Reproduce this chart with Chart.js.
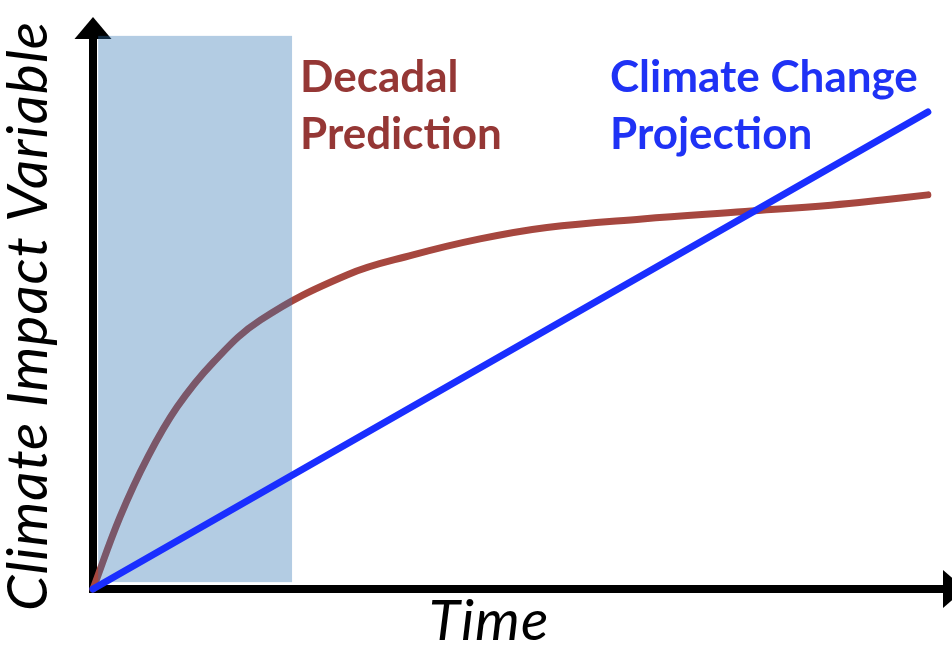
<!DOCTYPE html>
<html>
<head>
<meta charset="utf-8">
<script src="https://cdn.jsdelivr.net/npm/chart.js@4"></script>
<style>
  html, body { margin: 0; padding: 0; background: #fff; }
  #wrap { width: 952px; height: 647px; }
</style>
</head>
<body>
<div id="wrap"><canvas id="myChart"></canvas></div>
<script>
// values, both axes on a 0..100 scale
let decadalTime = [0, 3.15, 6.4, 9.8, 14.0, 19.5, 29.6, 37.3, 45.1, 52.9, 64.0, 76.0, 86.0, 92.0, 97.3];
let decadalValues = [0, 12.6, 23.1, 31.8, 39.6, 47.0, 54.9, 58.4, 61.2, 63.2, 64.7, 66.0, 67.1, 68.0, 68.9];
let projectionTime = [0, 97.3];
let projectionValues = [0, 83.4];
// shaded decadal window
let windowTime = [0.6, 23.2];
let windowValues = [1.2, 96.7];
let seriesLabels = [['Climate Change', 'Projection'], ['Decadal', 'Prediction']];
let axisTitles = ['Time', 'Climate Impact Variable'];

const toPoints = (xs, ys) => xs.map((x, i) => ({ x: x, y: ys[i] }));

const diagramPlugin = {
    id: 'diagram',
    beforeDatasetsDraw(chart) {
        const ctx = chart.ctx;
        const a = chart.chartArea;
        ctx.save();
        ctx.strokeStyle = '#000';
        ctx.fillStyle = '#000';
        ctx.lineWidth = 8;
        ctx.beginPath();
        ctx.moveTo(a.left, a.bottom + 4);
        ctx.lineTo(a.left, a.top + 20);
        ctx.moveTo(a.left - 4, a.bottom);
        ctx.lineTo(a.right - 6, a.bottom);
        ctx.stroke();
        // arrow heads
        ctx.beginPath();
        ctx.moveTo(a.left, a.top);
        ctx.lineTo(a.left - 18.5, a.top + 22);
        ctx.lineTo(a.left + 18.5, a.top + 22);
        ctx.closePath();
        ctx.fill();
        ctx.beginPath();
        ctx.moveTo(a.right + 14, a.bottom);
        ctx.lineTo(a.right - 8, a.bottom - 19);
        ctx.lineTo(a.right - 8, a.bottom + 19);
        ctx.closePath();
        ctx.fill();
        // axis titles
        ctx.font = 'italic 57px Lato';
        ctx.letterSpacing = '1px';
        ctx.textAlign = 'center';
        ctx.textBaseline = 'alphabetic';
        ctx.fillText(axisTitles[0], 489, 640);
        ctx.translate(47, 316);
        ctx.rotate(-Math.PI / 2);
        ctx.fillText(axisTitles[1], 0, 0);
        ctx.restore();
    },
    afterDatasetDraw(chart, args) {
        if (args.index !== 1) return;
        const ctx = chart.ctx;
        const xs = chart.scales.x, ys = chart.scales.y;
        const x0 = xs.getPixelForValue(windowTime[0]);
        const x1 = xs.getPixelForValue(windowTime[1]);
        const y0 = ys.getPixelForValue(windowValues[1]);
        const y1 = ys.getPixelForValue(windowValues[0]);
        ctx.save();
        ctx.fillStyle = 'rgba(50, 117, 179, 0.37)';
        ctx.fillRect(x0, y0, x1 - x0, y1 - y0);
        ctx.restore();
    },
    afterDraw(chart) {
        const ctx = chart.ctx;
        ctx.save();
        ctx.font = 'bold 44px Lato';
        ctx.textAlign = 'left';
        ctx.textBaseline = 'alphabetic';
        ctx.fillStyle = '#953735';
        ctx.fillText(seriesLabels[1][0], 300, 92);
        ctx.fillText(seriesLabels[1][1], 300, 149);
        ctx.fillStyle = '#1f32f5';
        ctx.fillText(seriesLabels[0][0], 610, 92);
        ctx.fillText(seriesLabels[0][1], 610, 149);
        ctx.restore();
    }
};

const ctx = document.getElementById('myChart').getContext('2d');
const myChart = new Chart(ctx, {
    type: 'line',
    data: {
        datasets: [
            {
                label: 'Climate Change Projection',
                data: toPoints(projectionTime, projectionValues),
                borderColor: '#1a2eff',
                borderWidth: 7,
                borderCapStyle: 'round',
                pointRadius: 0,
                fill: false,
                clip: false,
            },
            {
                label: 'Decadal Prediction',
                data: toPoints(decadalTime, decadalValues),
                borderColor: '#a6473f',
                borderWidth: 7,
                borderCapStyle: 'round',
                tension: 0.4,
                pointRadius: 0,
                fill: false,
                clip: false,
            },
        ]
    },
    options: {
        responsive: true,
        maintainAspectRatio: false,
        animation: false,
        layout: { padding: { left: 93, top: 17, right: 1, bottom: 58 } },
        plugins: { legend: { display: false }, tooltip: { enabled: false } },
        scales: {
            x: { type: 'linear', min: 0, max: 100, display: false },
            y: { min: 0, max: 100, display: false }
        }
    },
    plugins: [diagramPlugin]
});
</script>
</body>
</html>
